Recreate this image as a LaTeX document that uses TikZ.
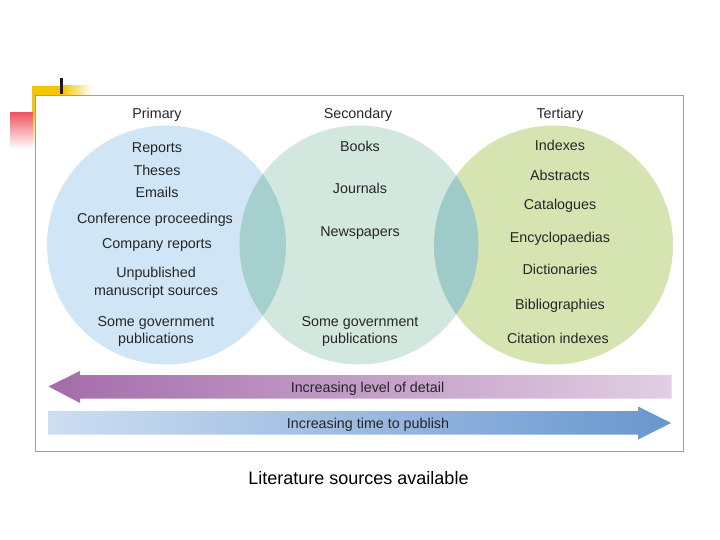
\documentclass[tikz,border=0pt]{standalone}
\usepackage{fontspec}
\setmainfont{Liberation Sans}
\usepackage{xcolor}
\usetikzlibrary{positioning}
\definecolor{primfill}{RGB}{208,230,247}
\definecolor{secfill}{RGB}{210,232,222}
\definecolor{tertfill}{RGB}{214,228,178}
\definecolor{lensA}{RGB}{166,208,205}
\definecolor{lensB}{RGB}{158,203,199}
\definecolor{detailL}{RGB}{164,108,170}
\definecolor{detailR}{RGB}{226,206,228}
\definecolor{timeL}{RGB}{206,222,242}
\definecolor{timeR}{RGB}{104,150,206}
\definecolor{barY}{RGB}{246,196,0}
\definecolor{barR}{RGB}{240,88,100}

\begin{document}
\begin{tikzpicture}[x=1pt,y=-1pt,
  item/.style={font=\fontsize{14.3}{17.5}\selectfont,text=black!85,inner sep=0pt,
    text height=10.3pt,text depth=0pt},
  ring/.style={circle,minimum size=239pt,inner sep=0pt},
  caption/.style={font=\fontsize{18}{20}\selectfont,text=black,inner sep=0pt,
    text height=13pt,text depth=0pt}
]
\useasboundingbox (0,0) rectangle (720,540);
% Corner marks
\fill[barY] (32,86) rectangle (62,95);
\shade[left color=barY,right color=white] (62,86) rectangle (92,95);
\fill[barY] (32,86) rectangle (35.5,113);
\shade[top color=barY,bottom color=white] (32,113) rectangle (35.5,150);
\shade[top color=barR,bottom color=white] (10,113) rectangle (33,149);
\draw[line width=3pt,black!90] (61.5,78) -- (61.5,94);
% Frame
\draw[gray!75,line width=1pt] (35.5,95.5) rectangle (683,451);
% Circles
\node[ring,fill=primfill] (pc) at (166.5,245) {};
\node[ring,fill=secfill] (sc) at (359,245) {};
\node[ring,fill=tertfill] (tc) at (553.5,245) {};
\begin{scope}
  \clip (pc.center) circle (119.5pt);
  \fill[lensA] (sc.center) circle (119.5pt);
\end{scope}
\begin{scope}
  \clip (sc.center) circle (119.5pt);
  \fill[lensB] (tc.center) circle (119.5pt);
\end{scope}
% Primary
\node[item] (prim) at (157,113) {Primary};
\node[item] (p1) at (157,147) {Reports};
\node[item] (p2) at (157,170) {Theses};
\node[item] (p3) at (157,192) {Emails};
\node[item] (p4) at (155,218) {Conference proceedings};
\node[item] (p5) at (157,243) {Company reports};
\node[item] (p6) at (156,272) {Unpublished};
\node[item] (p6b) at (156,290) {manuscript sources};
\node[item] (p7) at (156,321) {Some government};
\node[item] (p7b) at (156,338) {publications};
% Secondary
\node[item] (sec) at (358,113) {Secondary};
\node[item] (s1) at (360,146) {Books};
\node[item] (s2) at (360,188) {Journals};
\node[item] (s3) at (360,231) {Newspapers};
\node[item] (s4) at (360,321) {Some government};
\node[item] (s4b) at (360,338) {publications};
% Tertiary
\node[item] (tert) at (560,113) {Tertiary};
\node[item] (t1) at (560,145) {Indexes};
\node[item] (t2) at (560,175) {Abstracts};
\node[item] (t3) at (560,204) {Catalogues};
\node[item] (t4) at (560,237) {Encyclopaedias};
\node[item] (t5) at (560,269) {Dictionaries};
\node[item] (t6) at (560,304) {Bibliographies};
\node[item] (t7) at (558,338) {Citation indexes};
% Arrows
\shade[left color=detailL,right color=detailR] (48.5,386.5) -- (80,371) -- (80,375)
  -- (671.5,375) -- (671.5,398.5) -- (80,398.5) -- (80,403) -- cycle;
\node[item] (detail) at (367.5,387) {Increasing level of detail};
\shade[left color=timeL,right color=timeR] (48,411) -- (638,411) -- (638,406.5)
  -- (671,423) -- (638,439.5) -- (638,434.5) -- (48,434.5) -- cycle;
\node[item] (time) at (368,423) {Increasing time to publish};
% Caption
\node[caption] (cap) at (358.5,478) {Literature sources available};
\end{tikzpicture}
\end{document}
